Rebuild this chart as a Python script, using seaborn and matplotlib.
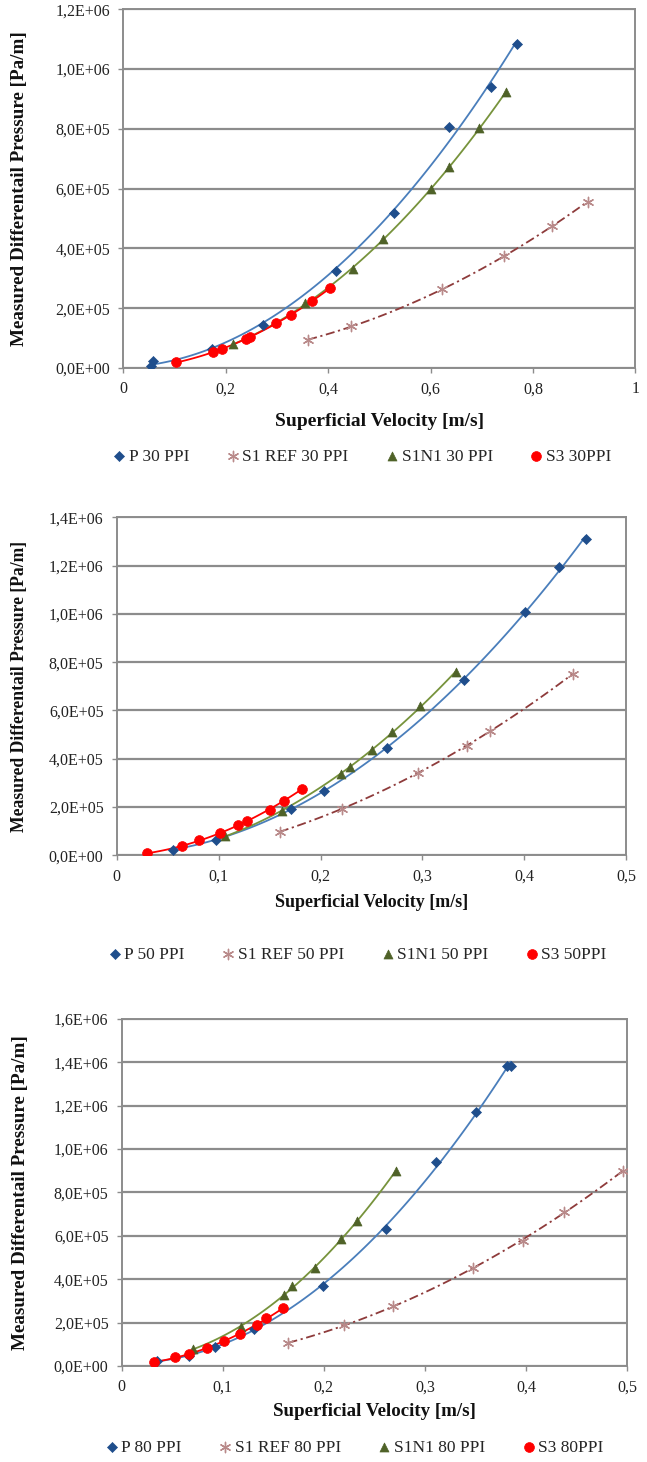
import numpy as np
import matplotlib
matplotlib.use("Agg")
import matplotlib.pyplot as plt
from matplotlib.ticker import FuncFormatter, MultipleLocator
import seaborn as sns

# ---------------- data: 30 PPI ----------------
p30_v = [0.055, 0.058, 0.173, 0.272, 0.415, 0.528, 0.637, 0.718, 0.768]
p30_dp = [6.7e3, 2.45e4, 6.2e4, 1.43e5, 3.25e5, 5.20e5, 8.08e5, 9.40e5, 1.083e6]
s1ref30_v = [0.361, 0.445, 0.623, 0.744, 0.837, 0.907]
s1ref30_dp = [9.4e4, 1.40e5, 2.63e5, 3.74e5, 4.74e5, 5.57e5]
s1n130_v = [0.215, 0.355, 0.448, 0.508, 0.601, 0.637, 0.694, 0.748]
s1n130_dp = [7.9e4, 2.16e5, 3.32e5, 4.31e5, 5.98e5, 6.74e5, 8.02e5, 9.23e5]
s330_v = [0.103, 0.176, 0.192, 0.239, 0.248, 0.298, 0.328, 0.369, 0.403]
s330_dp = [1.9e4, 5.3e4, 6.2e4, 9.6e4, 1.05e5, 1.52e5, 1.77e5, 2.24e5, 2.66e5]

# ---------------- data: 50 PPI ----------------
p50_v = [0.055, 0.097, 0.171, 0.203, 0.265, 0.341, 0.401, 0.434, 0.460]
p50_dp = [2.3e4, 6.5e4, 1.93e5, 2.68e5, 4.44e5, 7.26e5, 1.007e6, 1.196e6, 1.309e6]
s1ref50_v = [0.160, 0.221, 0.296, 0.344, 0.366, 0.448]
s1ref50_dp = [9.9e4, 1.92e5, 3.41e5, 4.55e5, 5.17e5, 7.52e5]
s1n150_v = [0.106, 0.162, 0.220, 0.229, 0.250, 0.270, 0.298, 0.333]
s1n150_dp = [7.9e4, 1.85e5, 3.38e5, 3.66e5, 4.37e5, 5.09e5, 6.17e5, 7.61e5]
s350_v = [0.030, 0.064, 0.081, 0.101, 0.119, 0.128, 0.150, 0.164, 0.182]
s350_dp = [9.7e3, 3.7e4, 6.2e4, 9.2e4, 1.27e5, 1.43e5, 1.89e5, 2.26e5, 2.76e5]

# ---------------- data: 80 PPI ----------------
p80_v = [0.035, 0.067, 0.092, 0.131, 0.199, 0.262, 0.311, 0.351, 0.381, 0.385]
p80_dp = [2.15e4, 4.8e4, 8.75e4, 1.70e5, 3.71e5, 6.30e5, 9.40e5, 1.172e6, 1.383e6, 1.383e6]
s1ref80_v = [0.165, 0.220, 0.268, 0.348, 0.397, 0.438, 0.496]
s1ref80_dp = [1.06e5, 1.87e5, 2.75e5, 4.54e5, 5.77e5, 7.11e5, 9.00e5]
s1n180_v = [0.071, 0.118, 0.161, 0.169, 0.1915, 0.217, 0.233, 0.271]
s1n180_dp = [8.0e4, 1.78e5, 3.29e5, 3.70e5, 4.51e5, 5.85e5, 6.68e5, 8.98e5]
s380_v = [0.032, 0.053, 0.067, 0.084, 0.101, 0.117, 0.134, 0.143, 0.160]
s380_dp = [1.7e4, 4.0e4, 5.5e4, 8.3e4, 1.14e5, 1.49e5, 1.90e5, 2.21e5, 2.67e5]

panel_ppi = ["30", "50", "80"]
series_names = ["P {} PPI", "S1 REF {} PPI", "S1N1 {} PPI", "S3 {}PPI"]

panels = [
    [(p30_v, p30_dp), (s1ref30_v, s1ref30_dp), (s1n130_v, s1n130_dp), (s330_v, s330_dp)],
    [(p50_v, p50_dp), (s1ref50_v, s1ref50_dp), (s1n150_v, s1n150_dp), (s350_v, s350_dp)],
    [(p80_v, p80_dp), (s1ref80_v, s1ref80_dp), (s1n180_v, s1n180_dp), (s380_v, s380_dp)],
]

# styles per series: marker, size, marker colour, trend colour, trend dash
styles = [
    dict(marker="D", s=26, mc="#1F4E8C", lc="#4A7EBB", ls="-"),
    dict(marker=(6, 2, 0), s=55, mc="#B98A8A", lc="#8E3B3B", ls=(0, (5, 2, 1.2, 2))),
    dict(marker="^", s=42, mc="#4F6228", lc="#77933C", ls="-"),
    dict(marker="o", s=50, mc="#FF0000", lc="#FF0000", ls="-"),
]

# axis ranges and layout (figure fractions)
xmax = [1.0, 0.5, 0.5]
xstep = [0.2, 0.1, 0.1]
ymax = [1.2e6, 1.4e6, 1.6e6]
axes_rect = [
    [0.1906, 0.7483, 0.7913, 0.2453],
    [0.1804, 0.4149, 0.7876, 0.2313],
    [0.1881, 0.0657, 0.7810, 0.2373],
]
ylabel_x = [-0.202, -0.190, -0.201]
xlabel_y = [-0.150, -0.140, -0.132]
ylabel_size = [13.8, 12.7, 13.8]
xlabel_size = [14.0, 13.0, 13.6]
legend_pos = [(0.558, 0.6876), (0.551, 0.3468), (0.546, 0.0096)]

sns.set_theme(style="white")
plt.rcParams["font.family"] = ["Liberation Serif", "DejaVu Serif"]

GRID = "#8C8C8C"


def sci_comma(v, pos):
    v = round(v)
    if v == 0:
        return "0,0E+00"
    exp = int(np.floor(np.log10(abs(v))))
    mant = v / 10 ** exp
    return f"{mant:.1f}".replace(".", ",") + f"E+{exp:02d}"


def dec_comma(v, pos):
    return f"{round(v, 2):g}".replace(".", ",")


fig = plt.figure(figsize=(6.47, 14.62), dpi=100)

for i, data in enumerate(panels):
    ax = fig.add_axes(axes_rect[i])
    # quadratic trend lines over each series' own range
    for j, (xv, yv) in enumerate(data):
        st = styles[j]
        sns.regplot(x=np.array(xv), y=np.array(yv), order=2, ci=None,
                    scatter=False, truncate=True, color=st["lc"],
                    line_kws=dict(lw=1.3, ls=st["ls"], zorder=2), ax=ax)
    # measured points
    for j, (xv, yv) in enumerate(data):
        st = styles[j]
        label = series_names[j].format(panel_ppi[i])
        if j == 1:
            sns.scatterplot(x=xv, y=yv, marker=st["marker"], s=st["s"],
                            color=st["mc"], linewidth=1.0, ax=ax,
                            label=label, zorder=3)
        else:
            sns.scatterplot(x=xv, y=yv, marker=st["marker"], s=st["s"],
                            color=st["mc"], edgecolor=st["mc"], linewidth=0.5,
                            ax=ax, label=label, zorder=3)

    ax.set_xlim(0, xmax[i])
    ax.set_ylim(0, ymax[i])
    ax.xaxis.set_major_locator(MultipleLocator(xstep[i]))
    ax.yaxis.set_major_locator(MultipleLocator(2e5))
    ax.xaxis.set_major_formatter(FuncFormatter(dec_comma))
    ax.yaxis.set_major_formatter(FuncFormatter(sci_comma))

    ax.set_axisbelow(True)
    ax.yaxis.grid(True, color=GRID, lw=1.6)
    ax.xaxis.grid(False)
    for sp in ax.spines.values():
        sp.set_color(GRID)
        sp.set_linewidth(1.4)

    ax.tick_params(axis="both", which="major", bottom=True, left=True,
                   direction="out", length=3.5, width=1.0, color=GRID,
                   labelsize=11.5, labelcolor="#222222", pad=6)

    ax.set_xlabel("Superficial Velocity [m/s]", fontsize=xlabel_size[i],
                  fontweight="bold", color="#111111")
    ax.set_ylabel("Measured Differentail Pressure [Pa/m]", fontsize=ylabel_size[i],
                  fontweight="bold", color="#111111")
    ax.xaxis.set_label_coords(0.5, xlabel_y[i])
    ax.xaxis.label.set_va("center")
    ax.yaxis.set_label_coords(ylabel_x[i], 0.5)
    ax.yaxis.label.set_va("center")

    handles, labels = ax.get_legend_handles_labels()
    ax.legend(handles, labels, loc="center",
              bbox_to_anchor=legend_pos[i], bbox_transform=fig.transFigure,
              ncol=4, frameon=False, fontsize=12.5, handletextpad=0.05,
              columnspacing=2.0, handlelength=1.0, borderaxespad=0)

fig.savefig("out.png", dpi=100, facecolor="white")
